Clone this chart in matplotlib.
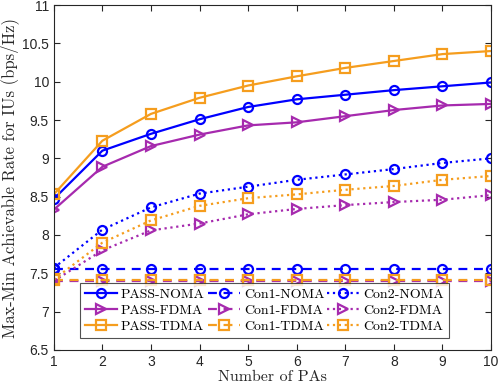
import numpy as np
import matplotlib
matplotlib.use('Agg')
import matplotlib.pyplot as plt

plt.rcParams['font.family'] = 'Liberation Sans'

num_pas = [1, 2, 3, 4, 5, 6, 7, 8, 9, 10]

pass_noma = [8.47, 9.10, 9.32, 9.51, 9.67, 9.77, 9.83, 9.89, 9.94, 9.99]
pass_fdma = [8.33, 8.89, 9.16, 9.31, 9.43, 9.47, 9.55, 9.63, 9.69, 9.71]
pass_tdma = [8.53, 9.23, 9.58, 9.79, 9.95, 10.07, 10.18, 10.27, 10.36, 10.40]

con1_noma = [7.56] * 10
con1_fdma = [7.40] * 10
con1_tdma = [7.41] * 10

con2_noma = [7.57, 8.07, 8.36, 8.54, 8.63, 8.72, 8.79, 8.86, 8.94, 9.00]
con2_fdma = [7.40, 7.80, 8.06, 8.15, 8.27, 8.34, 8.39, 8.43, 8.46, 8.52]
con2_tdma = [7.42, 7.90, 8.19, 8.38, 8.48, 8.53, 8.59, 8.64, 8.72, 8.77]

blue = '#0000ff'
purple = '#a62aae'
orange = '#f59d1e'
dark = '#262626'
serif = 'cmr10'  # computer modern shipped with matplotlib

fig = plt.figure(figsize=(4.98, 3.88), dpi=100)
ax = fig.add_axes([0.108, 0.098, 0.878, 0.889])

kw = dict(lw=1.6, ms=6.5, mfc='none', mew=1.6)
dash = (0, (4, 3))
series = [
    (pass_noma, blue, '-', 'o', 'PASS-NOMA'),
    (pass_fdma, purple, '-', '>', 'PASS-FDMA'),
    (pass_tdma, orange, '-', 's', 'PASS-TDMA'),
    (con1_noma, blue, dash, 'o', 'Con1-NOMA'),
    (con1_fdma, purple, dash, '>', 'Con1-FDMA'),
    (con1_tdma, orange, dash, 's', 'Con1-TDMA'),
    (con2_noma, blue, ':', 'o', 'Con2-NOMA'),
    (con2_fdma, purple, ':', '>', 'Con2-FDMA'),
    (con2_tdma, orange, ':', 's', 'Con2-TDMA'),
]
for y, c, ls, m, lab in series:
    ax.plot(num_pas, y, color=c, linestyle=ls, marker=m, label=lab, **kw)

ax.set_xlim(1, 10)
ax.set_ylim(6.5, 11)
ax.set_xticks(num_pas)
ax.set_yticks(np.arange(6.5, 11.01, 0.5))
ax.set_yticklabels(['6.5', '7', '7.5', '8', '8.5', '9', '9.5', '10', '10.5', '11'])
ax.tick_params(direction='in', top=True, right=True, labelsize=10, colors=dark, length=4)
for sp in ax.spines.values():
    sp.set_color(dark)
    sp.set_linewidth(0.8)

ax.set_xlabel('Number of PAs', fontsize=11.5, family=serif, color=dark, labelpad=1)
ax.set_ylabel('Max-Min Achievable Rate for IUs (bps/Hz)', fontsize=12, family=serif,
              color=dark, labelpad=2)

leg = ax.legend(ncol=3, loc='lower left', bbox_to_anchor=(0.06, 0.035),
                prop={'family': serif, 'size': 10},
                handlelength=2.3, columnspacing=0.2, handletextpad=0.3,
                labelspacing=0.25, borderpad=0.35, frameon=True, fancybox=False,
                edgecolor=dark, borderaxespad=0)
leg.get_frame().set_linewidth(0.8)

fig.savefig('out.png', dpi=100)
